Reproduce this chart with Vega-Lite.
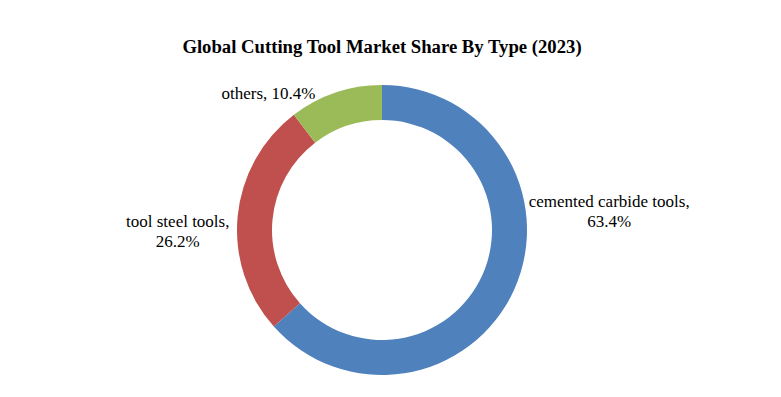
{
  "$schema": "https://vega.github.io/schema/vega-lite/v6.json",
  "autosize": "none",
  "width": 764,
  "height": 290,
  "padding": {"left": 0, "top": 85, "right": 17, "bottom": 22},
  "background": "white",
  "view": {"stroke": null},
  "title": {
    "text": "Global Cutting Tool Market Share By Type (2023)",
    "font": "Times New Roman, Liberation Serif, DejaVu Serif, serif",
    "fontSize": 18.7,
    "fontWeight": "bold",
    "color": "black",
    "anchor": "middle",
    "offset": 28
  },
  "data": {
    "values": [
      {"type": "cemented carbide tools", "share": 63.4, "label": "cemented carbide tools,\n63.4%"},
      {"type": "tool steel tools", "share": 26.2, "label": "tool steel tools,\n26.2%"},
      {"type": "others", "share": 10.4, "label": "others, 10.4%"}
    ]
  },
  "encoding": {
    "theta": {"field": "share", "type": "quantitative", "stack": true},
    "order": {"field": "share", "sort": "descending"}
  },
  "layer": [
    {
      "mark": {"type": "arc", "outerRadius": 145, "innerRadius": 110},
      "encoding": {
        "color": {
          "field": "type",
          "type": "nominal",
          "scale": {
            "domain": ["cemented carbide tools", "tool steel tools", "others"],
            "range": ["#4F81BD", "#C0504D", "#9BBB59"]
          },
          "legend": null
        }
      }
    },
    {
      "mark": {
        "type": "text",
        "radius": 170,
        "dx": {"expr": "datum.type === 'cemented carbide tools' ? 72 : datum.type === 'tool steel tools' ? -35 : -59"},
        "dy": {"expr": "datum.type === 'cemented carbide tools' ? -92 : datum.type === 'tool steel tools' ? 13 : 30"},
        "align": "center",
        "baseline": "alphabetic",
        "lineBreak": "\n",
        "lineHeight": 20,
        "font": "Times New Roman, Liberation Serif, DejaVu Serif, serif",
        "fontSize": 17,
        "color": "black"
      },
      "encoding": {
        "text": {"field": "label"}
      }
    }
  ]
}
